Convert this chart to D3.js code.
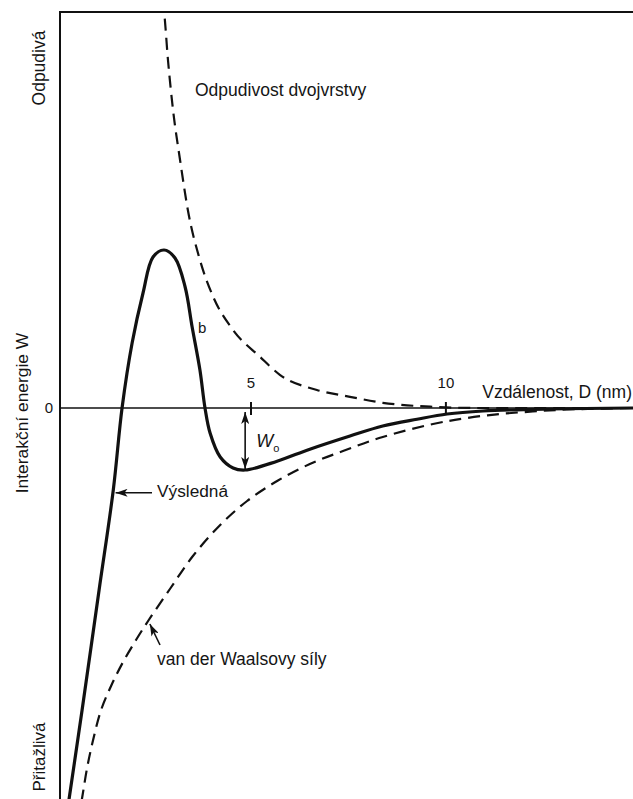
<!DOCTYPE html>
<html>
<head>
<meta charset="utf-8">
<script src="https://cdn.jsdelivr.net/npm/d3@7"></script>
<style>
  html, body { margin: 0; padding: 0; background: #fff; }
  svg { display: block; }
  text { font-family: "Liberation Sans", Arial, sans-serif; fill: #151515; }
</style>
</head>
<body>
<svg id="chart"></svg>
<script>
var width = 633;
var height = 799;
var marginLeft = 60;
var marginTop = 12;

// distance D (nm) / energy W (arbitrary units)
var repulsionD = [2.72, 2.77, 2.87, 3.0, 3.18, 3.38, 3.69, 4.03, 4.54, 5.23, 5.74, 6.69, 7.54, 8.38, 9.67, 10.9, 14.8];
var repulsionW = [10.2, 9.9, 8.7, 7.45, 6.2, 4.95, 3.7, 2.78, 1.95, 1.28, 0.83, 0.45, 0.28, 0.13, 0.03, 0, 0];

var vdwD = [0.564, 0.667, 0.795, 0.949, 1.154, 1.41, 1.718, 2.05, 2.36, 2.92, 3.51, 4.21, 4.9, 5.67, 6.51, 7.36, 8.38, 9.67, 10.54, 11.38, 12.23, 13.1, 14.8];
var vdwW = [-10.3, -9.75, -9.0, -8.3, -7.55, -6.95, -6.35, -5.8, -5.325, -4.525, -3.7, -2.925, -2.325, -1.825, -1.4, -1.075, -0.725, -0.4, -0.25, -0.15, -0.0875, -0.0375, 0];

var totalD = [0.256, 0.333, 0.667, 1.103, 1.467, 1.692, 1.95, 2.23, 2.487, 2.77, 3.05, 3.31, 3.49, 3.69, 3.82, 3.95, 4.21, 4.54, 4.85, 5.67, 6.51, 7.54, 8.38, 9.26, 10.03, 10.95, 12.67, 14.8];
var totalW = [-10.3, -9.775, -7.55, -4.55, -2.05, 0, 1.625, 2.875, 3.775, 3.95, 3.75, 3.025, 2.025, 0.95, 0, -0.625, -1.225, -1.5, -1.55, -1.33, -1.03, -0.7, -0.45, -0.28, -0.15, -0.075, -0.025, 0];

var xTicks = [5, 10];

var x = d3.scaleLinear().domain([0.1, 14.8]).range([marginLeft, width]);
var y = d3.scaleLinear().domain([-10, 10]).range([808, 8]);

var svg = d3.select('#chart')
    .attr('width', width)
    .attr('height', height);

var defs = svg.append('defs');
defs.append('clipPath').attr('id', 'plot')
    .append('rect')
    .attr('x', marginLeft).attr('y', marginTop)
    .attr('width', width - marginLeft).attr('height', height - marginTop);

defs.append('marker')
    .attr('id', 'head')
    .attr('viewBox', '0 0 12 8')
    .attr('refX', 12).attr('refY', 4)
    .attr('markerWidth', 12).attr('markerHeight', 8)
    .attr('markerUnits', 'userSpaceOnUse')
    .attr('orient', 'auto-start-reverse')
    .append('path')
    .attr('d', 'M0,0 L12,4 L0,8 L3,4 z')
    .attr('fill', '#111');

function zip(ds, ws) {
    return ds.map(function (d, i) { return [d, ws[i]]; });
}

var line = d3.line()
    .x(function (d) { return x(d[0]); })
    .y(function (d) { return y(d[1]); })
    .curve(d3.curveMonotoneX);

var smoothLine = d3.line()
    .x(function (d) { return x(d[0]); })
    .y(function (d) { return y(d[1]); })
    .curve(d3.curveCatmullRom.alpha(0.5));

// frame
svg.append('line')
    .attr('x1', marginLeft).attr('x2', marginLeft)
    .attr('y1', marginTop - 1).attr('y2', height)
    .attr('stroke', '#111').attr('stroke-width', 2);
svg.append('line')
    .attr('x1', marginLeft - 1).attr('x2', width)
    .attr('y1', marginTop).attr('y2', marginTop)
    .attr('stroke', '#111').attr('stroke-width', 2);

// zero line
svg.append('line')
    .attr('x1', marginLeft).attr('x2', width)
    .attr('y1', y(0)).attr('y2', y(0))
    .attr('stroke', '#111').attr('stroke-width', 1.6);

svg.selectAll('.tick')
    .data(xTicks)
    .enter().append('line')
    .attr('x1', function (d) { return x(d); })
    .attr('x2', function (d) { return x(d); })
    .attr('y1', y(0) - 6).attr('y2', y(0) + 7)
    .attr('stroke', '#111').attr('stroke-width', 2);

svg.selectAll('.ticklabel')
    .data(xTicks)
    .enter().append('text')
    .attr('x', function (d) { return x(d); })
    .attr('y', y(0) - 20)
    .attr('text-anchor', 'middle')
    .style('font-size', '15px')
    .text(function (d) { return d; });

var plot = svg.append('g').attr('clip-path', 'url(#plot)');

plot.append('path')
    .datum(zip(repulsionD, repulsionW))
    .attr('d', line)
    .attr('fill', 'none')
    .attr('stroke', '#111')
    .attr('stroke-width', 2.2)
    .attr('stroke-dasharray', '12,7');

plot.append('path')
    .datum(zip(vdwD, vdwW))
    .attr('d', smoothLine)
    .attr('fill', 'none')
    .attr('stroke', '#111')
    .attr('stroke-width', 2.2)
    .attr('stroke-dasharray', '12,7');

plot.append('path')
    .datum(zip(totalD, totalW))
    .attr('d', smoothLine)
    .attr('fill', 'none')
    .attr('stroke', '#111')
    .attr('stroke-width', 3.2);

// W_o arrow at the minimum of the total curve (past the barrier)
var well = totalW.slice(12);
var minIdx = d3.minIndex(well);
var minD = totalD.slice(12)[minIdx];
var minW = well[minIdx];
svg.append('line')
    .attr('x1', x(minD)).attr('x2', x(minD))
    .attr('y1', y(0) + 4).attr('y2', y(minW) - 1)
    .attr('stroke', '#111').attr('stroke-width', 1.6)
    .attr('marker-start', 'url(#head)')
    .attr('marker-end', 'url(#head)');

var wo = svg.append('text')
    .attr('x', x(minD) + 11)
    .attr('y', y(0) + 39);
wo.append('tspan').style('font-size', '18px').style('font-style', 'italic').text('W');
wo.append('tspan').style('font-size', '11px').attr('dy', 5).text('o');

// Výsledná label + arrow
svg.append('line')
    .attr('x1', 152).attr('x2', x(1.5) + 1)
    .attr('y1', y(-2.12)).attr('y2', y(-2.12))
    .attr('stroke', '#111').attr('stroke-width', 1.6)
    .attr('marker-end', 'url(#head)');
svg.append('text')
    .attr('x', 157).attr('y', 497)
    .style('font-size', '17.3px')
    .text('Výsledná');

// van der Waals label + arrow
svg.append('line')
    .attr('x1', 160).attr('y1', 645)
    .attr('x2', x(2.38) + 1).attr('y2', y(-5.35) + 2)
    .attr('stroke', '#111').attr('stroke-width', 1.6)
    .attr('marker-end', 'url(#head)');
svg.append('text')
    .attr('x', 157).attr('y', 665)
    .style('font-size', '17.5px')
    .text('van der Waalsovy síly');

svg.append('text')
    .attr('x', 195).attr('y', 96)
    .style('font-size', '17.5px')
    .text('Odpudivost dvojvrstvy');

svg.append('text')
    .attr('x', 198).attr('y', 333)
    .style('font-size', '15px')
    .text('b');

svg.append('text')
    .attr('x', 632).attr('y', 398)
    .attr('text-anchor', 'end')
    .style('font-size', '17.5px')
    .text('Vzdálenost, D (nm)');

svg.append('text')
    .attr('x', 49).attr('y', y(0) + 5)
    .attr('text-anchor', 'middle')
    .style('font-size', '15px')
    .text('0');

function vlabel(txt, cx, cy, size) {
    svg.append('text')
        .attr('transform', 'translate(' + cx + ',' + cy + ') rotate(-90)')
        .attr('text-anchor', 'middle')
        .style('font-size', size)
        .text(txt);
}
vlabel('Odpudivá', 45, 68, '17.5px');
vlabel('Přitažlivá', 45, 757, '17px');
vlabel('Interakční energie W', 28, 413, '17.4px');
</script>
</body>
</html>
